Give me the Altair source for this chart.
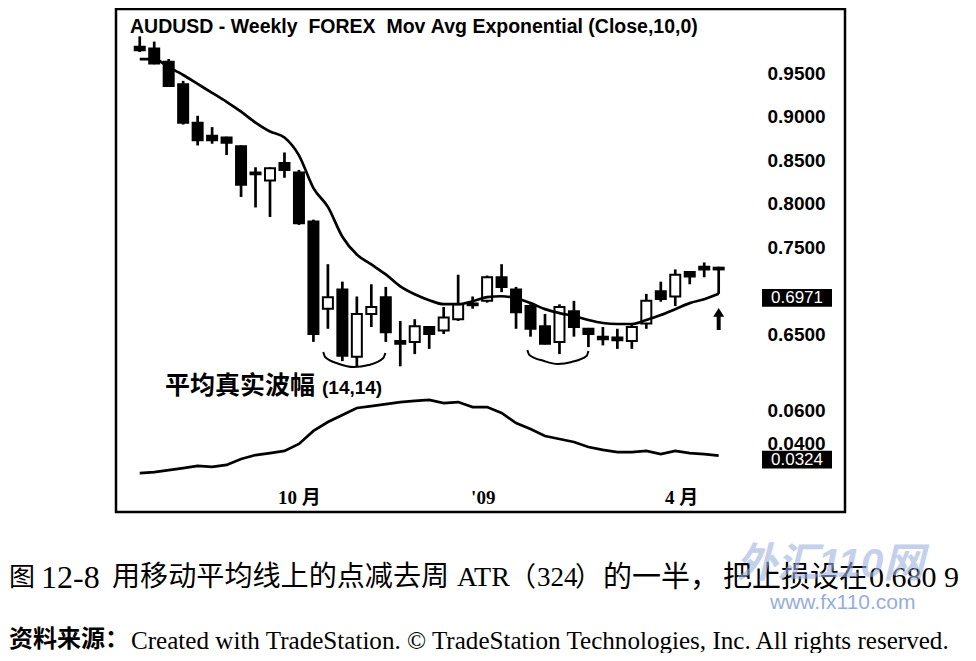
import altair as alt
import pandas as pd

# ---------------- data ----------------
weeks = list(range(41))
opens = [0.980, 0.978, 0.963, 0.937, 0.893, 0.878, 0.876, 0.866, 0.836, 0.827,
         0.847, 0.836, 0.780, 0.680, 0.702, 0.625, 0.674, 0.693, 0.643, 0.642,
         0.659, 0.655, 0.668, 0.686, 0.689, 0.716, 0.702, 0.683, 0.660, 0.642,
         0.677, 0.657, 0.648, 0.647, 0.643, 0.663, 0.700, 0.694, 0.722, 0.728, 0.727]
highs = [0.992, 0.986, 0.966, 0.941, 0.901, 0.888, 0.877, 0.867, 0.842, 0.842,
         0.859, 0.839, 0.782, 0.731, 0.711, 0.694, 0.708, 0.705, 0.666, 0.668,
         0.660, 0.682, 0.719, 0.694, 0.718, 0.731, 0.705, 0.685, 0.674, 0.685,
         0.689, 0.658, 0.659, 0.657, 0.663, 0.697, 0.711, 0.725, 0.723, 0.733, 0.728]
lows = [0.974, 0.960, 0.934, 0.891, 0.867, 0.869, 0.856, 0.808, 0.796, 0.785,
        0.830, 0.776, 0.642, 0.657, 0.620, 0.614, 0.659, 0.642, 0.614, 0.628,
        0.634, 0.651, 0.666, 0.680, 0.687, 0.699, 0.657, 0.648, 0.639, 0.628,
        0.648, 0.636, 0.638, 0.634, 0.634, 0.657, 0.688, 0.683, 0.708, 0.716, 0.697]
closes = [0.976, 0.961, 0.935, 0.893, 0.873, 0.873, 0.870, 0.822, 0.834, 0.841,
          0.839, 0.778, 0.651, 0.693, 0.626, 0.674, 0.682, 0.653, 0.640, 0.660,
          0.651, 0.670, 0.685, 0.684, 0.716, 0.705, 0.676, 0.657, 0.640, 0.682,
          0.659, 0.651, 0.645, 0.644, 0.659, 0.689, 0.691, 0.719, 0.717, 0.725, 0.725]
ema10 = [0.9659, 0.9659, 0.9568, 0.9477, 0.9375, 0.9273, 0.9170, 0.9057, 0.8932, 0.8830,
         0.8761, 0.8557, 0.8182, 0.7966, 0.7625, 0.7420, 0.7307, 0.7193, 0.7057, 0.6966,
         0.6898, 0.6852, 0.6852, 0.6886, 0.6932, 0.6943, 0.6920, 0.6864, 0.6795, 0.6750,
         0.6716, 0.6670, 0.6636, 0.6625, 0.6625, 0.6670, 0.6727, 0.6795, 0.6864, 0.6909, 0.6971]
atr14 = [0.0218, 0.0224, 0.0236, 0.0248, 0.0261, 0.0255, 0.0267, 0.0303, 0.0327, 0.0339,
         0.0352, 0.0394, 0.0473, 0.0527, 0.0570, 0.0612, 0.0624, 0.0636, 0.0648, 0.0655,
         0.0661, 0.0642, 0.0648, 0.0618, 0.0618, 0.0582, 0.0521, 0.0485, 0.0442, 0.0424,
         0.0406, 0.0376, 0.0358, 0.0345, 0.0345, 0.0352, 0.0333, 0.0352, 0.0339, 0.0333, 0.0324]

price_ticks = [0.65, 0.75, 0.80, 0.85, 0.90, 0.95]
atr_ticks = [0.04, 0.06]
month_tick_weeks = [11, 23.7, 37.4]
month_tick_labels = ["10 月", "'09", "4 月"]

ema_last = 0.6971
atr_last = 0.0324
stop_price = 0.6809
stop_week = 40

arc_id = [1] * 7 + [2] * 7
arc_week = [12.68, 12.81, 13.77, 14.79, 15.81, 16.83, 16.97,
            26.78, 26.92, 27.94, 28.89, 29.85, 30.87, 31.00]
arc_price = [0.6304, 0.6247, 0.6167, 0.6132, 0.6155, 0.6235, 0.6293,
             0.6327, 0.6270, 0.6201, 0.6167, 0.6190, 0.6258, 0.6316]

title_text = "AUDUSD\u00a0-\u00a0Weekly\u00a0\u00a0FOREX\u00a0\u00a0Mov\u00a0Avg\u00a0Exponential\u00a0(Close,10,0)"
atr_title_cn = "平均真实波幅"
atr_title_par = "(14,14)"
# caption line 1, in pieces (CJK / Latin set in different faces in the book)
cap1_parts = ["图", "12-8", "用移动平均线上的点减去周", "ATR", "（", "324", "）",
              "的一半，", "把止损设在", "0.680 9"]
cap2_cn = "资料来源："
cap2_en = "Created with TradeStation. © TradeStation Technologies, Inc. All rights reserved."
wm1 = "外汇110网"
wm2 = "www.fx110.com"

# ---------------- tables ----------------
df = pd.DataFrame({"week": weeks, "open": opens, "high": highs, "low": lows,
                   "close": closes, "ema": ema10, "atr": atr14})
arcs = pd.DataFrame({"id": arc_id, "week": arc_week, "price": arc_price})
ptag = pd.DataFrame({"v": [ema_last], "label": [f"{ema_last:.4f}"]})
atag = pd.DataFrame({"v": [atr_last], "label": [f"{atr_last:.4f}"]})
stop = pd.DataFrame({"week": [stop_week], "price": [stop_price]})

W, H = 729, 503
LEFT, TOP = 116, 9   # page position of the plot frame
price_scale = alt.Scale(domain=[0.44714, 1.02331], nice=False, zero=False)
atr_scale = alt.Scale(domain=[-0.001818, 0.30303], nice=False, zero=False)

label_expr = " : ".join(
    f"datum.value == {w} ? \"{l}\"" for w, l in zip(month_tick_weeks[:-1], month_tick_labels[:-1])
) + f" : \"{month_tick_labels[-1]}\""

X = alt.X("week:Q",
          scale=alt.Scale(domain=[-1.2947, 48.382], nice=False, zero=False),
          axis=alt.Axis(values=month_tick_weeks, labelExpr=label_expr, orient="bottom",
                        offset=-24, labelPadding=0, ticks=False, domain=False, grid=False,
                        title=None, labelFont="Liberation Serif, Noto Sans CJK SC",
                        labelFontWeight="bold", labelFontSize=19, labelColor="black",
                        labelOverlap=False, labelFlush=False))

axis_common = dict(format=".4f", orient="right", offset=-78, labelPadding=0, ticks=False,
                   domain=False, grid=False, title=None, labelFont="Liberation Sans",
                   labelFontWeight="bold", labelFontSize=19, labelColor="black",
                   labelOverlap=False, labelBound=False, labelFlush=False)
price_axis = alt.Axis(values=price_ticks, **axis_common)
atr_axis = alt.Axis(values=atr_ticks, **axis_common)

base = alt.Chart(df)

wicks = base.mark_rule(color="black", strokeWidth=2.7).encode(
    x=X,
    y=alt.Y("low:Q", scale=price_scale, axis=price_axis),
    y2="high:Q",
)
bodies = base.mark_bar(size=10, stroke="black", strokeWidth=2).encode(
    x=X,
    y=alt.Y("open:Q", scale=price_scale, axis=None),
    y2="close:Q",
    fill=alt.condition("datum.close < datum.open", alt.value("black"), alt.value("white")),
)
ema_line = base.mark_line(color="black", strokeWidth=2.7, interpolate="monotone").encode(
    x=X, y=alt.Y("ema:Q", scale=price_scale, axis=None))
atr_line = base.mark_line(color="black", strokeWidth=2.7).encode(
    x=X, y=alt.Y("atr:Q", scale=atr_scale, axis=atr_axis))

arc_lines = alt.Chart(arcs).mark_line(color="black", strokeWidth=2, interpolate="monotone").encode(
    x=X, y=alt.Y("price:Q", scale=price_scale, axis=None), detail="id:N")

tag_shape = "M-1,-0.14L1,-0.14L1,0.37L-1,0.37Z"
TAG_X = 797 - LEFT


def tag(frame, scale):
    box = alt.Chart(frame).mark_point(shape=tag_shape, filled=True, color="black",
                                      opacity=1, size=4900).encode(
        x=alt.value(TAG_X), y=alt.Y("v:Q", scale=scale, axis=None))
    txt = alt.Chart(frame).mark_text(color="white", font="Liberation Sans", fontSize=17,
                                     dy=4, align="center", baseline="middle").encode(
        x=alt.value(TAG_X), y=alt.Y("v:Q", scale=scale, axis=None), text="label:N")
    return box, txt


ptag_box, ptag_txt = tag(ptag, price_scale)
atag_box, atag_txt = tag(atag, atr_scale)

arrow_shape = "M0,0L0.5,0.8L0.18,0.8L0.18,2L-0.18,2L-0.18,0.8L-0.5,0.8Z"
arrow = alt.Chart(stop).mark_point(shape=arrow_shape, filled=True, color="black",
                                   opacity=1, size=484).encode(
    x=X, y=alt.Y("price:Q", scale=price_scale, axis=None))


def label(text, page_x, page_y, color="black", **kw):
    return alt.Chart(pd.DataFrame({"t": [text]})).mark_text(
        align="left", baseline="middle", **kw
    ).encode(text="t:N", x=alt.value(page_x - LEFT), y=alt.value(page_y - TOP),
             color=alt.value(color))


CJK = "Noto Sans CJK SC"
SERIF = "Liberation Serif"
texts = [
    label(title_text, 130, 27, font="Liberation Sans", fontWeight="bold", fontSize=19.5),
    label(atr_title_cn, 165, 386, font=CJK, fontWeight="bold", fontSize=25),
    label(atr_title_par, 322, 388, font="Liberation Sans", fontWeight="bold", fontSize=19),
]
cap1_layout = [(9, CJK, 26), (41, SERIF, 32), (112, CJK, 28.1), (457, SERIF, 28),
               (509, CJK, 27), (537, SERIF, 27), (575, CJK, 27), (603, CJK, 29),
               (723, CJK, 29), (869, SERIF, 30)]
for part, (px, fnt, fs) in zip(cap1_parts, cap1_layout):
    texts.append(label(part, px, 578, font=fnt, fontSize=fs))
texts.append(label(cap2_cn, 9, 640, font=CJK, fontWeight="bold", fontSize=24))
texts.append(label(cap2_en, 131, 641, font=SERIF, fontSize=25.1))
texts.append(label(wm1, 736, 565, color="#9fb3df", font="Liberation Sans, Noto Sans CJK SC",
                   fontWeight="bold", fontStyle="italic", fontSize=41, opacity=0.6))
texts.append(label(wm2, 770, 603, color="#86a0d6", font="Liberation Sans", fontSize=21,
                   opacity=0.85))

chart = alt.layer(
    wicks, bodies, ema_line, arc_lines, arrow, ptag_box, ptag_txt,
    atr_line, atag_box, atag_txt, *texts,
).resolve_scale(y="independent").properties(
    width=W, height=H, autosize="none",
    padding={"left": LEFT - 8, "top": TOP - 8, "right": 960 - (LEFT - 8) - W,
             "bottom": 645 - (TOP - 8) - H},
    background="white",
).configure_view(stroke="black", strokeWidth=2.5)

chart.save("out.html", embed_options={"renderer": "svg", "actions": False})
